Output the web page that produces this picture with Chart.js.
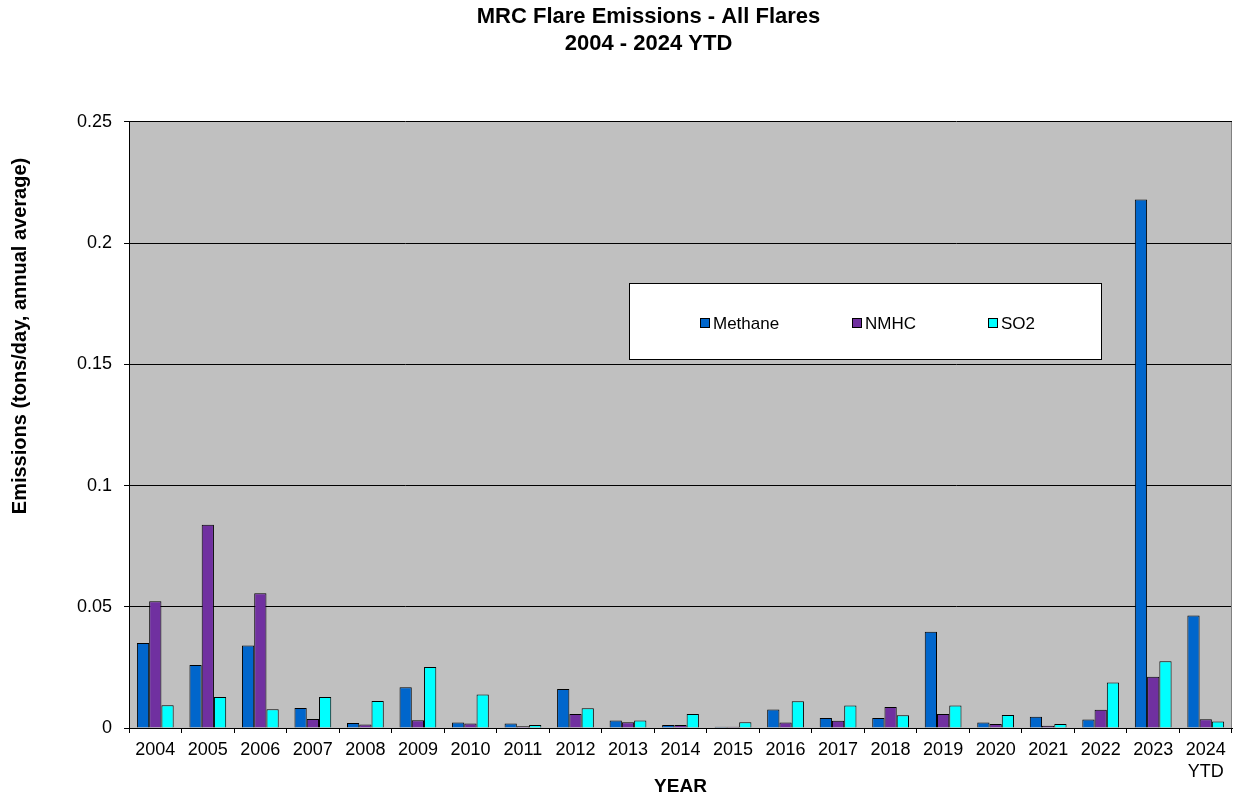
<!DOCTYPE html>
<html>
<head>
<meta charset="utf-8">
<script src="https://cdn.jsdelivr.net/npm/chart.js@4/dist/chart.umd.min.js"></script>
<style>
  html, body { margin: 0; padding: 0; background: #fff; }
  #wrap { width: 1233px; height: 797px; position: relative; }
</style>
</head>
<body>
<div id="wrap"><canvas id="flareChart"></canvas></div>
<script>
const years = ["2004", "2005", "2006", "2007", "2008", "2009", "2010", "2011", "2012", "2013", "2014",
    "2015", "2016", "2017", "2018", "2019", "2020", "2021", "2022", "2023", ["2024", "YTD"]];

const methane = [0.0351, 0.0260, 0.0340, 0.0083, 0.0021, 0.0168, 0.0023, 0.0019, 0.0161, 0.0031, 0.0012,
    0.0005, 0.0076, 0.0041, 0.0041, 0.0397, 0.0023, 0.0046, 0.0035, 0.2180, 0.0464];
const nmhc = [0.0523, 0.0839, 0.0556, 0.0037, 0.0014, 0.0032, 0.0019, 0.0007, 0.0058, 0.0024, 0.0012,
    0.0005, 0.0023, 0.0030, 0.0087, 0.0058, 0.0017, 0.0009, 0.0075, 0.0211, 0.0036];
const so2 = [0.0094, 0.0128, 0.0077, 0.0128, 0.0111, 0.0252, 0.0138, 0.0012, 0.0081, 0.0031, 0.0058,
    0.0024, 0.0110, 0.0093, 0.0053, 0.0093, 0.0054, 0.0017, 0.0188, 0.0275, 0.0027];

const yTicks = [0, 0.05, 0.1, 0.15, 0.2, 0.25];
const yTitle = "Emissions (tons/day, annual average)";

const FONT = "'Liberation Sans', Arial, sans-serif";

// grey plot area + right frame line
const plotBackground = {
    id: "plotBackground",
    beforeDraw(chart) {
        const { ctx, chartArea: a } = chart;
        ctx.save();
        ctx.fillStyle = "#c0c0c0";
        ctx.fillRect(a.left, a.top, a.right - a.left, a.bottom - a.top);
        ctx.restore();
    },
    afterDraw(chart) {
        const { ctx, chartArea: a } = chart;
        ctx.save();
        ctx.strokeStyle = "#808080";
        ctx.lineWidth = 1;
        ctx.beginPath();
        ctx.moveTo(a.right - 0.5, a.top);
        ctx.lineTo(a.right - 0.5, a.bottom);
        ctx.stroke();

        // y axis title, sits a bit above the middle like the original
        ctx.translate(20, 336);
        ctx.rotate(-Math.PI / 2);
        ctx.font = "bold 20px " + FONT;
        ctx.fillStyle = "#000";
        ctx.textAlign = "center";
        ctx.textBaseline = "middle";
        ctx.fillText(yTitle, 0, 0);
        ctx.restore();
    }
};

// legend box inside the plot
const boxLegend = {
    id: "boxLegend",
    afterDatasetsDraw(chart) {
        const { ctx } = chart;
        const x0 = 629, y0 = 283, w = 472, h = 76;
        ctx.save();
        ctx.fillStyle = "#ffffff";
        ctx.fillRect(x0, y0, w, h);
        ctx.strokeStyle = "#000000";
        ctx.lineWidth = 1;
        ctx.strokeRect(x0 + 0.5, y0 + 0.5, w, h);
        const itemX = [700, 852, 988];
        const cy = 323;
        ctx.font = "17px " + FONT;
        ctx.textBaseline = "middle";
        chart.data.datasets.forEach((ds, i) => {
            ctx.fillStyle = ds.backgroundColor;
            ctx.fillRect(itemX[i], cy - 5, 10, 10);
            ctx.strokeStyle = "#000";
            ctx.strokeRect(itemX[i] + 0.5, cy - 4.5, 9, 9);
            ctx.fillStyle = "#000";
            ctx.fillText(ds.label, itemX[i] + 13, cy + 1);
        });
        ctx.restore();
    }
};

new Chart(document.getElementById("flareChart"), {
    type: "bar",
    data: {
        labels: years,
        datasets: [
            { label: "Methane", data: methane, backgroundColor: "#0066cc" },
            { label: "NMHC", data: nmhc, backgroundColor: "#7030a0" },
            { label: "SO2", data: so2, backgroundColor: "#00ffff" }
        ].map(d => Object.assign(d, { borderColor: "#000", borderWidth: 1, borderSkipped: "bottom" }))
    },
    options: {
        responsive: true,
        maintainAspectRatio: false,
        animation: false,
        layout: { padding: { top: 0, right: 1, bottom: 1, left: 65 } },
        datasets: { bar: { categoryPercentage: 0.7, barPercentage: 1 } },
        plugins: {
            legend: { display: false },
            tooltip: { enabled: false },
            title: {
                display: true,
                text: ["MRC Flare Emissions - All Flares", "2004 - 2024 YTD"],
                color: "#000",
                font: { family: FONT, size: 22, weight: "bold", lineHeight: 1.227 },
                padding: { top: 3.5, bottom: 64.5 }
            }
        },
        scales: {
            x: {
                grid: { display: true, drawOnChartArea: false, color: "#000", tickLength: 5, offset: true },
                border: { color: "#000" },
                ticks: {
                    color: "#000",
                    font: { family: FONT, size: 18, lineHeight: 1.222 },
                    maxRotation: 0,
                    autoSkip: false,
                    padding: 6
                },
                title: {
                    display: true,
                    text: "YEAR",
                    color: "#000",
                    font: { family: FONT, size: 19, weight: "bold", lineHeight: 1.0 },
                    padding: { top: -12, bottom: 0 }
                }
            },
            y: {
                min: 0,
                max: 0.25,
                afterBuildTicks: axis => { axis.ticks = yTicks.map(v => ({ value: v })); },
                grid: {
                    color: ctx => ctx.tick && ctx.tick.value === 0 ? "rgba(0,0,0,0)" : "#000",
                    tickColor: "#000",
                    tickLength: 5,
                    lineWidth: 1
                },
                border: { color: "#000" },
                ticks: {
                    color: "#000",
                    font: { family: FONT, size: 18 },
                    padding: 12,
                    callback: v => String(v)
                }
            }
        }
    },
    plugins: [plotBackground, boxLegend]
});
</script>
</body>
</html>
